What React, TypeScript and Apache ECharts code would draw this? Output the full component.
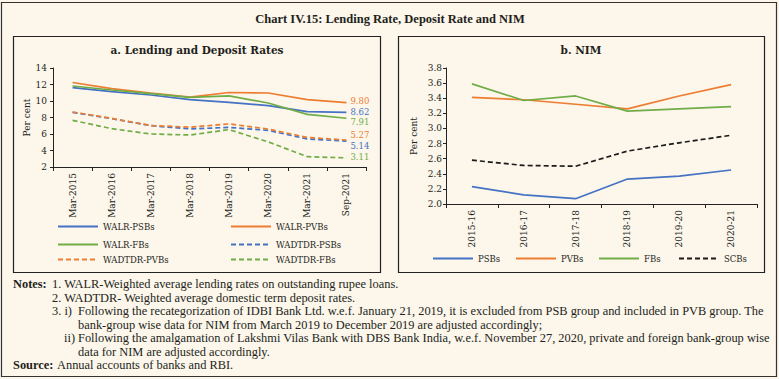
import React, { useEffect, useRef } from "react";
import * as echarts from "echarts";

const lendCats = ["Mar-2015", "Mar-2016", "Mar-2017", "Mar-2018", "Mar-2019", "Mar-2020", "Mar-2021", "Sep-2021"];
const walrPSBs = [11.62, 11.13, 10.73, 10.16, 9.84, 9.43, 8.71, 8.62];
const walrPVBs = [12.24, 11.5, 10.97, 10.48, 11.03, 10.97, 10.16, 9.8];
const walrFBs = [11.82, 11.33, 10.89, 10.44, 10.62, 9.76, 8.38, 7.91];
const wadtdrPSBs = [8.62, 7.86, 7.01, 6.62, 6.8, 6.44, 5.4, 5.14];
const wadtdrPVBs = [8.67, 7.9, 7.03, 6.83, 7.22, 6.6, 5.58, 5.27];
const wadtdrFBs = [7.66, 6.65, 6.0, 5.88, 6.53, 5.05, 3.25, 3.11];

const nimCats = ["2015-16", "2016-17", "2017-18", "2018-19", "2019-20", "2020-21"];
const nimPSBs = [2.23, 2.12, 2.07, 2.33, 2.37, 2.45];
const nimPVBs = [3.41, 3.38, 3.32, 3.26, 3.43, 3.58];
const nimFBs = [3.59, 3.37, 3.43, 3.23, 3.26, 3.29];
const nimSCBs = [2.58, 2.51, 2.5, 2.7, 2.81, 2.91];

const mainTitle = "Chart IV.15: Lending Rate, Deposit Rate and NIM";
const titleA = "a. Lending and Deposit Rates";
const titleB = "b. NIM";
const notes = [
  "1. WALR-Weighted average lending rates on outstanding rupee loans.",
  "2. WADTDR- Weighted average domestic term deposit rates.",
];
const note3i = "Following the recategorization of IDBI Bank Ltd. w.e.f. January 21, 2019, it is excluded from PSB group and included in PVB group. The";
const note3i2 = "bank-group wise data for NIM from March 2019 to December 2019 are adjusted accordingly;";
const note3ii = "Following the amalgamation of Lakshmi Vilas Bank with DBS Bank India, w.e.f. November 27, 2020, private and foreign bank-group wise";
const note3ii2 = "data for NIM are adjusted accordingly.";
const source = "Annual accounts of banks and RBI.";

const BLUE = "#4472C4";
const ORANGE = "#ED7D31";
const GREEN = "#70AD47";
const BLACK = "#1a1a1a";
const SERIF = "DejaVu Serif";
const NOTE = "Liberation Serif";
const TXT = "#231f20";

export default function App() {
  const ref = useRef<HTMLDivElement>(null);
  useEffect(() => {
    if (!ref.current) return;
    const chart = echarts.init(ref.current, undefined, { renderer: "svg" });

    const axisCommon = {
      axisLine: { show: true, lineStyle: { color: "#222", width: 1 } },
      splitLine: { show: false },
    };

    const lineSeries = (
      name: string,
      data: number[],
      color: string,
      dashed: boolean,
      xi: number,
      endOffset?: number
    ) => ({
      name,
      type: "line",
      xAxisIndex: xi,
      yAxisIndex: xi,
      data,
      symbol: "none",
      smooth: false,
      lineStyle: { color, width: 1.7, type: dashed ? [5, 3] : "solid" },
      itemStyle: { color },
      endLabel:
        endOffset === undefined
          ? { show: false }
          : {
              show: true,
              distance: 4,
              offset: [0, endOffset],
              color,
              fontFamily: SERIF,
              fontSize: 8.5,
              lineHeight: 9,
              formatter: (p: any) => {
                const v = Array.isArray(p.value) ? p.value[p.value.length - 1] : p.value;
                return Number(v).toFixed(2);
              },
            },
    });

    const legendItem = (name: string, left: number, top: number) => ({
      data: [name],
      left,
      top,
      padding: 0,
      itemWidth: 40,
      itemHeight: 10,
      itemGap: 0,
      itemStyle: { opacity: 0 },
      textStyle: { fontFamily: SERIF, fontSize: 8.5, color: TXT },
      selectedMode: false,
    });

    const noteText = (text: string, x: number, y: number, bold = false) => ({
      type: "text",
      x,
      y,
      style: {
        text,
        fontFamily: NOTE,
        fontSize: 12.4,
        fontWeight: bold ? "bold" : "normal",
        fill: TXT,
        verticalAlign: "middle",
      },
    });

    const option: any = {
      animation: false,
      backgroundColor: "#FCF6EB",
      grid: [
        { left: 53, top: 68, width: 313, height: 99 },
        { left: 446, top: 68, width: 311, height: 136 },
      ],
      xAxis: [
        {
          type: "category",
          gridIndex: 0,
          data: lendCats,
          boundaryGap: true,
          ...axisCommon,
          axisTick: { show: true, length: 4, interval: 0, lineStyle: { color: "#222" } },
          axisLabel: { rotate: 90, margin: 6, interval: 0, fontFamily: SERIF, fontSize: 9, color: TXT },
        },
        {
          type: "category",
          gridIndex: 1,
          data: nimCats,
          boundaryGap: true,
          ...axisCommon,
          axisTick: { show: true, length: 4, interval: 0, lineStyle: { color: "#222" } },
          axisLabel: { rotate: 90, margin: 6, interval: 0, fontFamily: SERIF, fontSize: 9, color: TXT },
        },
      ],
      yAxis: [
        {
          type: "value",
          gridIndex: 0,
          min: 2,
          max: 14,
          interval: 2,
          ...axisCommon,
          axisTick: { show: true, length: 3, lineStyle: { color: "#222" } },
          axisLabel: { margin: 6, fontFamily: SERIF, fontSize: 9, color: TXT },
          name: "Per cent",
          nameLocation: "middle",
          nameRotate: 90,
          nameGap: 19,
          nameTextStyle: { fontFamily: SERIF, fontSize: 9, color: TXT },
        },
        {
          type: "value",
          gridIndex: 1,
          min: 2.0,
          max: 3.8,
          interval: 0.2,
          ...axisCommon,
          axisTick: { show: true, length: 3, lineStyle: { color: "#222" } },
          axisLabel: {
            margin: 4,
            fontFamily: SERIF,
            fontSize: 9,
            color: TXT,
            formatter: (v: number) => v.toFixed(1),
          },
          name: "Per cent",
          nameLocation: "middle",
          nameRotate: 90,
          nameGap: 28,
          nameTextStyle: { fontFamily: SERIF, fontSize: 9, color: TXT },
        },
      ],
      legend: [
        legendItem("WALR-PSBs", 57, 222),
        legendItem("WALR-PVBs", 230, 222),
        legendItem("WALR-FBs", 57, 240),
        legendItem("WADTDR-PSBs", 230, 240),
        legendItem("WADTDR-PVBs", 57, 255),
        legendItem("WADTDR-FBs", 230, 255),
        legendItem("PSBs", 432, 254),
        legendItem("PVBs", 515, 254),
        legendItem("FBs", 598, 254),
        legendItem("SCBs", 678, 254),
      ],
      series: [
        lineSeries("WALR-PSBs", walrPSBs, BLUE, false, 0, 0),
        lineSeries("WALR-PVBs", walrPVBs, ORANGE, false, 0, -1.5),
        lineSeries("WALR-FBs", walrFBs, GREEN, false, 0, 3.5),
        lineSeries("WADTDR-PSBs", wadtdrPSBs, BLUE, true, 0, 5),
        lineSeries("WADTDR-PVBs", wadtdrPVBs, ORANGE, true, 0, -5),
        lineSeries("WADTDR-FBs", wadtdrFBs, GREEN, true, 0, -1),
        lineSeries("PSBs", nimPSBs, BLUE, false, 1),
        lineSeries("PVBs", nimPVBs, ORANGE, false, 1),
        lineSeries("FBs", nimFBs, GREEN, false, 1),
        lineSeries("SCBs", nimSCBs, BLACK, true, 1),
      ],
      graphic: [
        {
          type: "rect",
          shape: { x: 1.5, y: 2.5, width: 775, height: 374 },
          style: { fill: "none", stroke: "#333", lineWidth: 1.2 },
        },
        {
          type: "rect",
          shape: { x: 13.5, y: 36.5, width: 367, height: 236 },
          style: { fill: "none", stroke: "#222", lineWidth: 1.2 },
        },
        {
          type: "rect",
          shape: { x: 398.5, y: 36.5, width: 366, height: 236 },
          style: { fill: "none", stroke: "#222", lineWidth: 1.2 },
        },
        {
          type: "text",
          x: 390,
          y: 19,
          style: {
            text: mainTitle,
            fontFamily: NOTE,
            fontSize: 12.5,
            fontWeight: "bold",
            fill: TXT,
            textAlign: "center",
            verticalAlign: "middle",
          },
        },
        {
          type: "text",
          x: 197,
          y: 50,
          style: {
            text: titleA,
            fontFamily: SERIF,
            fontSize: 10.5,
            fontWeight: "bold",
            fill: TXT,
            textAlign: "center",
            verticalAlign: "middle",
          },
        },
        {
          type: "text",
          x: 581,
          y: 50,
          style: {
            text: titleB,
            fontFamily: SERIF,
            fontSize: 10.5,
            fontWeight: "bold",
            fill: TXT,
            textAlign: "center",
            verticalAlign: "middle",
          },
        },
        noteText("Notes:", 13, 284, true),
        noteText(notes[0], 52, 284),
        noteText(notes[1], 52, 297.5),
        noteText("3. i)", 52, 311),
        noteText(note3i, 78, 311),
        noteText(note3i2, 78, 324.5),
        noteText("ii)", 64, 338),
        noteText(note3ii, 78, 338),
        noteText(note3ii2, 78, 351.5),
        noteText("Source:", 13, 365, true),
        noteText(source, 57, 365),
      ],
    };

    chart.setOption(option);
    return () => chart.dispose();
  }, []);

  return (
    <div
      ref={ref}
      style={{ position: "fixed", left: 0, top: 0, width: 779, height: 379 }}
    />
  );
}
